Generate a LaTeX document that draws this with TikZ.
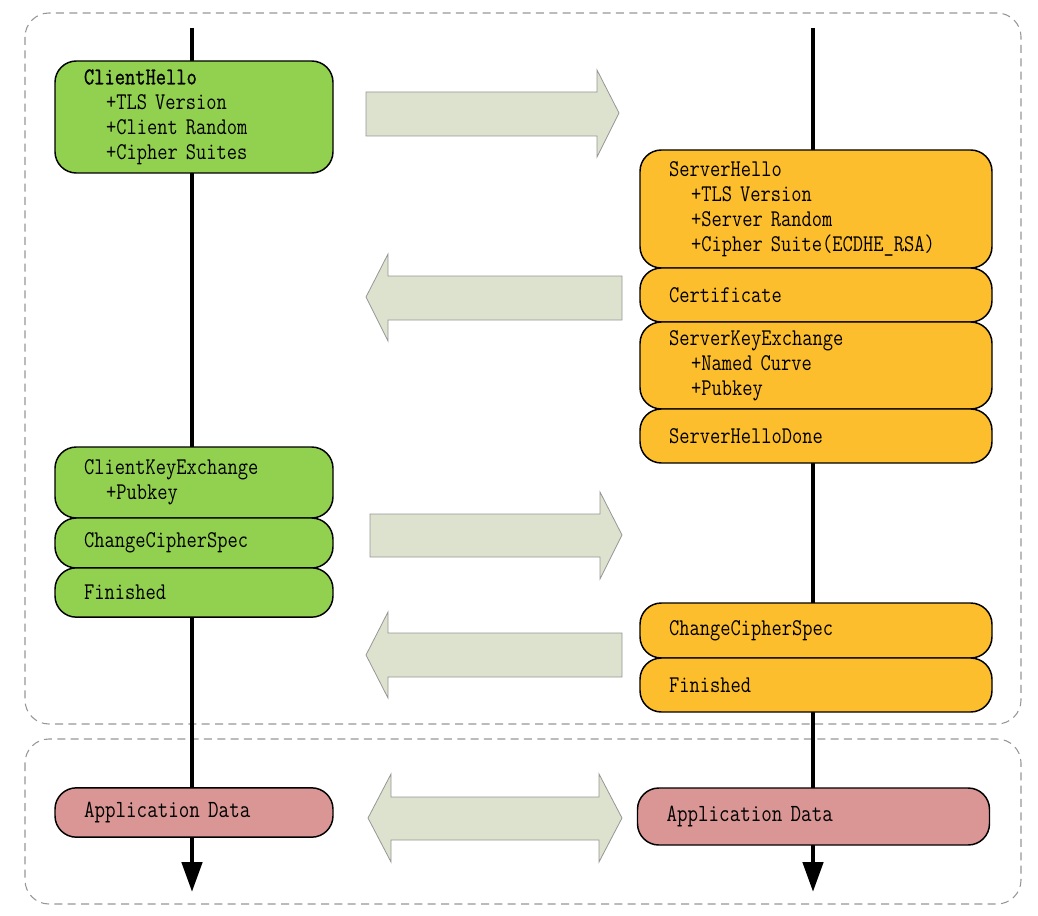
\documentclass[tikz,border=0pt]{standalone}
\usepackage{fontspec}
\usepackage{tikz}
\usetikzlibrary{arrows.meta}
\newfontfamily\msgfont[FakeStretch=0.83]{Latin Modern Mono}
\newfontfamily\msgboldfont[FakeStretch=0.83,FakeBold=1]{Latin Modern Mono}
\definecolor{clientfill}{RGB}{146,208,80}
\definecolor{serverfill}{RGB}{252,190,45}
\definecolor{appfill}{RGB}{217,150,148}
\definecolor{flowfill}{RGB}{220,226,206}
\definecolor{flowline}{RGB}{150,150,150}
\definecolor{phaseline}{RGB}{150,150,150}
\newcommand{\sub}{\hspace*{16.5pt}}
\newcommand{\monospace}{\fontdimen2\font=0.436em\fontdimen3\font=0pt\fontdimen4\font=0pt}

\begin{document}
\begin{tikzpicture}[x=0.75pt, y=-0.75pt,
	phase/.style={draw=phaseline, line width=0.8pt, dash pattern=on 6pt off 4pt, rounded corners=18pt},
	lifeline/.style={line width=3.5pt, -{Triangle[length=22.5pt, width=15pt]}},
	msg/.style={draw=black, line width=1.1pt, rounded corners=16pt, inner ysep=0pt, inner xsep=21.75pt, align=left,
		font=\msgfont\fontsize{18}{18.75}\selectfont\monospace},
	clientmsg/.style={msg, fill=clientfill, text width=165pt},
	servermsg/.style={msg, fill=serverfill, text width=220.5pt},
	appmsg/.style={msg, fill=appfill, font=\msgfont\fontsize{18.5}{18.75}\selectfont\monospace},
	flow/.style={fill=flowfill, draw=flowline, line width=0.6pt}]
	\useasboundingbox (0,0) rectangle (1038,916);
	% handshake and data phases
	\draw[phase] (25,13) rectangle (1021,724);
	\draw[phase] (25,739) rectangle (1021,904);
	% client and server time lines
	\coordinate (ctop) at (192,28);
	\coordinate (cend) at (192,892);
	\coordinate (stop) at (813,28);
	\coordinate (send) at (813,892);
	\draw[lifeline] (ctop) -- (cend);
	\draw[lifeline] (stop) -- (send);
	% client messages
	\node[clientmsg, minimum height=84pt] (chello) at (194,117) {{\msgboldfont ClientHello}\\\sub+TLS Version\\\sub+Client Random\\\sub+Cipher Suites};
	\node[clientmsg, minimum height=53.25pt] (ckex) at (194,482.5) {ClientKeyExchange\\\sub+Pubkey};
	\node[clientmsg, minimum height=37.5pt] (cccs) at (194,543) {ChangeCipherSpec};
	\node[clientmsg, minimum height=37pt] (cfin) at (194,592.5) {Finished};
	\node[clientmsg, appmsg, minimum height=37pt] (cdata) at (194,812.5) {Application Data};
	% server messages
	\node[servermsg, minimum height=88.5pt] (shello) at (816,209) {ServerHello\\\sub+TLS Version\\\sub+Server Random\\\sub+Cipher Suite(ECDHE\_RSA)};
	\node[servermsg, minimum height=40.5pt] (scert) at (816,295) {Certificate};
	\node[servermsg, minimum height=65.25pt] (skex) at (816,365.5) {ServerKeyExchange\\\sub+Named Curve\\\sub+Pubkey};
	\node[servermsg, minimum height=40.5pt] (sdone) at (816,436) {ServerHelloDone};
	\node[servermsg, minimum height=41.25pt] (sccs) at (816,630.5) {ChangeCipherSpec};
	\node[servermsg, minimum height=40.5pt] (sfin) at (816,685) {Finished};
	\node[servermsg, appmsg, minimum height=42.75pt] (sdata) at (813.5,816.5) {Application Data};
	% flows between the two sides
	\draw[flow] (366,92) -- (597,92) -- (597,70) -- (619,113) -- (597,157) -- (597,136) -- (366,136) -- cycle;
	\draw[flow] (622,276) -- (388,276) -- (388,254) -- (366,297) -- (388,341) -- (388,320) -- (622,320) -- cycle;
	\draw[flow] (370,514) -- (600,514) -- (600,492) -- (622,535) -- (600,579) -- (600,557) -- (370,557) -- cycle;
	\draw[flow] (622,633) -- (388,633) -- (388,612) -- (366,655) -- (388,698) -- (388,677) -- (622,677) -- cycle;
	\draw[flow] (391,797) -- (599,797) -- (599,774) -- (622,818) -- (599,862) -- (599,840) -- (391,840) -- (391,862) -- (368,818) -- (391,774) -- cycle;
\end{tikzpicture}
\end{document}
